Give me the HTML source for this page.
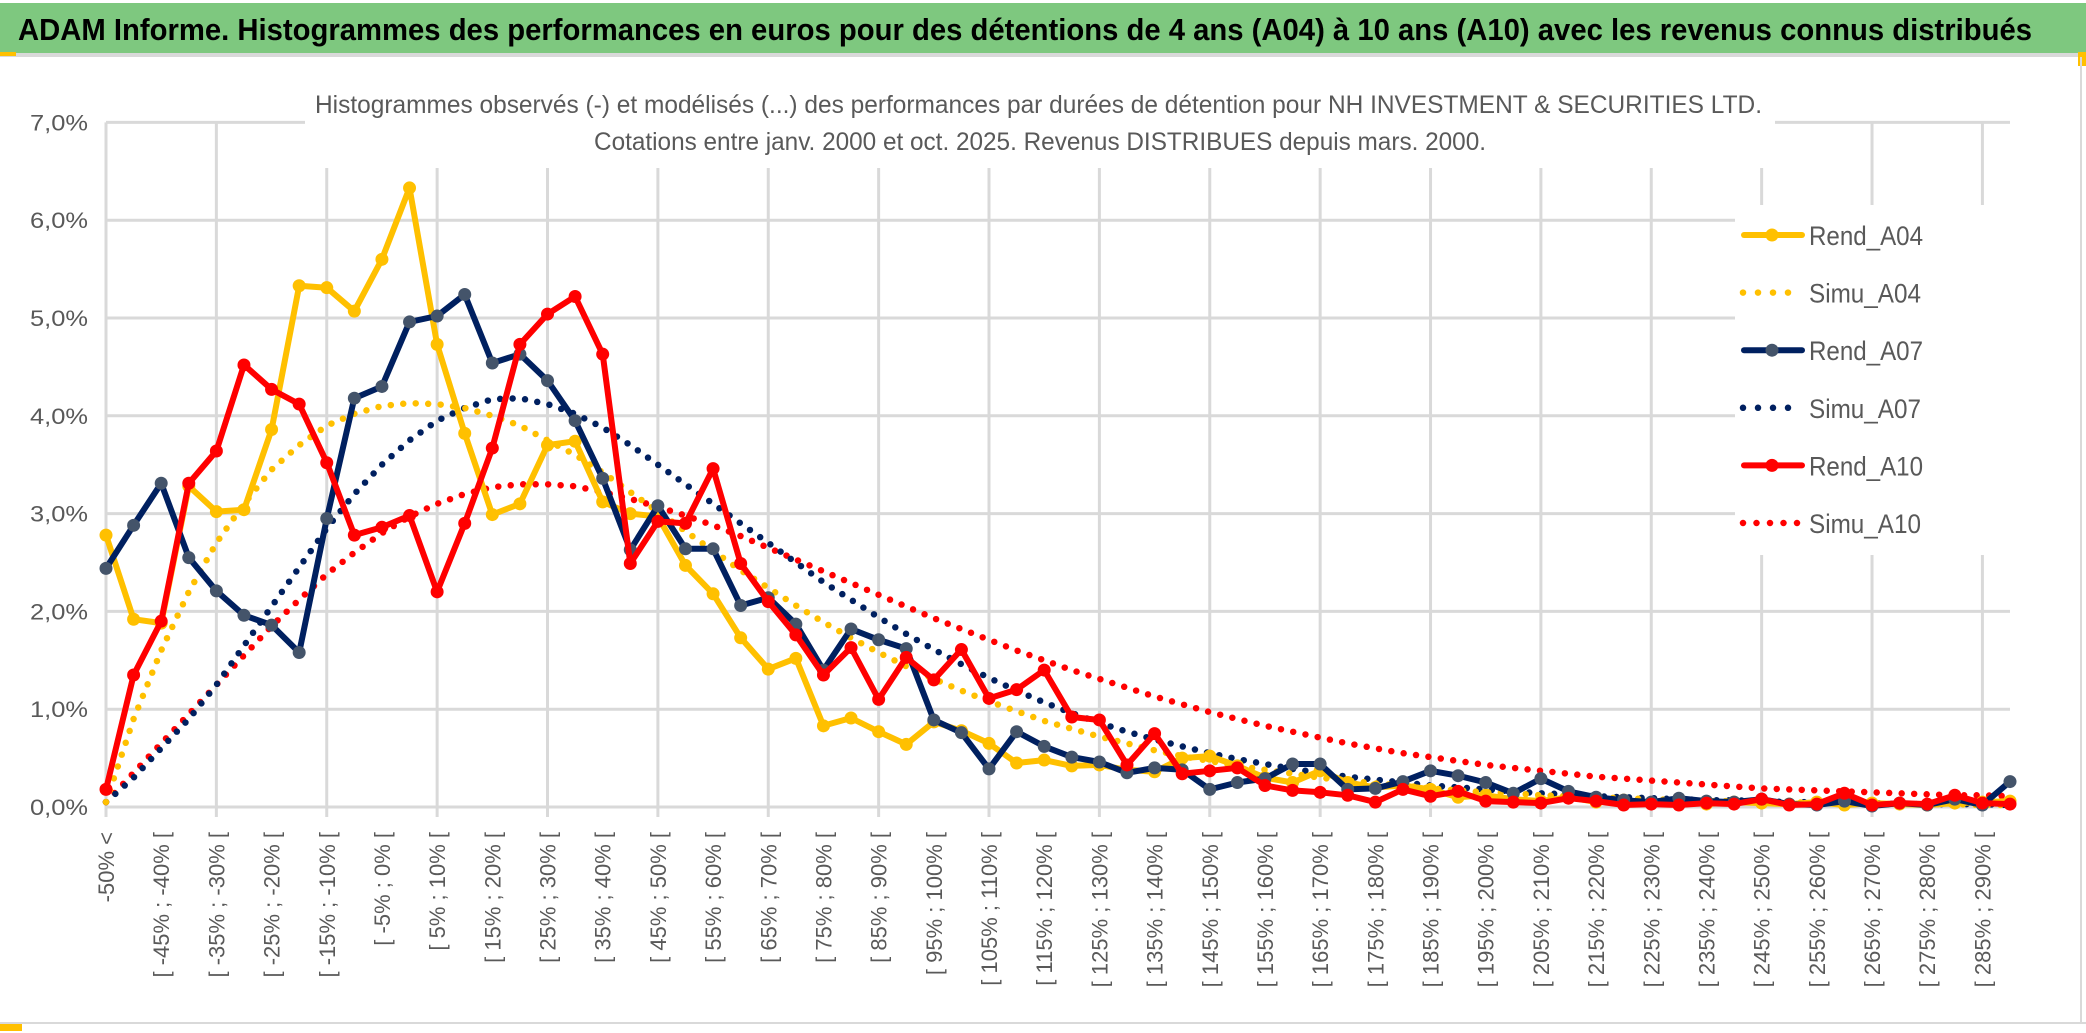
<!DOCTYPE html>
<html><head><meta charset="utf-8">
<style>
html,body{margin:0;padding:0;background:#fff;}
body{width:2086px;height:1033px;overflow:hidden;position:relative;font-family:"Liberation Sans",sans-serif;}
svg{position:absolute;left:0;top:0;}
</style></head>
<body>
<svg id="chart" width="2086" height="1033" viewBox="0 0 2086 1033">
  <rect x="0" y="0" width="2086" height="1033" fill="#fff"/>
  <rect x="0" y="3" width="2086" height="50" fill="#7ec87f"/>
  <rect x="0" y="53" width="2086" height="4" fill="#d9d9d9"/>
  <rect x="0" y="52" width="16" height="4" fill="#ffc000"/>
  <rect x="2078" y="52" width="8" height="14" fill="#ffc000"/>
  <rect x="0" y="1022" width="2086" height="2" fill="#d9d9d9"/>
  <rect x="0" y="1024" width="22" height="7" fill="#ffc000"/>
  <rect x="2080" y="57" width="2" height="965" fill="#d9d9d9"/>
  <text x="18" y="40" font-size="31" font-weight="bold" fill="#000" textLength="2014" lengthAdjust="spacingAndGlyphs">ADAM Informe. Histogrammes des performances en euros pour des détentions de 4 ans (A04) à 10 ans (A10) avec les revenus connus distribués</text>
  <g id="grid"></g>
  <rect x="305" y="80" width="1470" height="88" fill="#fff"/>
  <text x="315" y="113" font-size="25" fill="#595959" textLength="1447" lengthAdjust="spacingAndGlyphs">Histogrammes observés (-) et modélisés (...) des performances  par durées de détention pour NH INVESTMENT &amp; SECURITIES LTD.</text>
  <text x="594" y="150" font-size="25" fill="#595959" textLength="892" lengthAdjust="spacingAndGlyphs">Cotations entre janv. 2000 et oct. 2025. Revenus DISTRIBUES depuis mars. 2000.</text>
  <g id="ylabels"></g>
  <g id="xlabels"></g>
  <g id="series"></g>
  <g id="legend"></g>
</svg>
<script>
const categories = [];
(function(){ categories.push("-50% <"); for (let k=1;k<70;k++){ const a=-50+5*(k-1); categories.push("[ "+a+"% ; "+(a+5)+"% ["); } })();
const yTicks = [0,1,2,3,4,5,6,7];
const yTickLabels = ["0,0%","1,0%","2,0%","3,0%","4,0%","5,0%","6,0%","7,0%"];
const rendA04 = [2.78,1.92,1.88,3.28,3.02,3.04,3.86,5.33,5.31,5.07,5.60,6.33,4.73,3.82,2.99,3.10,3.70,3.74,3.12,3.00,2.97,2.47,2.18,1.73,1.41,1.52,0.83,0.91,0.77,0.64,0.87,0.78,0.65,0.45,0.48,0.42,0.43,0.38,0.36,0.50,0.52,0.42,0.30,0.25,0.37,0.25,0.20,0.22,0.18,0.10,0.12,0.08,0.06,0.10,0.05,0.07,0.04,0.06,0.03,0.05,0.04,0.03,0.05,0.02,0.04,0.03,0.02,0.04,0.05,0.06];
const rendA07 = [2.44,2.88,3.31,2.55,2.21,1.96,1.86,1.58,2.95,4.18,4.30,4.96,5.02,5.24,4.54,4.63,4.36,3.95,3.36,2.63,3.08,2.64,2.64,2.06,2.14,1.87,1.40,1.82,1.71,1.62,0.89,0.76,0.39,0.77,0.62,0.51,0.46,0.35,0.40,0.38,0.18,0.25,0.29,0.44,0.44,0.18,0.19,0.26,0.37,0.32,0.25,0.14,0.29,0.16,0.10,0.07,0.05,0.09,0.06,0.05,0.08,0.03,0.02,0.06,0.01,0.04,0.02,0.08,0.02,0.26];
const rendA10 = [0.18,1.35,1.90,3.31,3.64,4.52,4.27,4.12,3.52,2.78,2.86,2.98,2.20,2.90,3.67,4.73,5.04,5.22,4.63,2.49,2.92,2.90,3.46,2.49,2.10,1.76,1.35,1.63,1.10,1.53,1.30,1.61,1.11,1.20,1.40,0.92,0.89,0.43,0.75,0.34,0.37,0.40,0.22,0.17,0.15,0.12,0.05,0.18,0.11,0.16,0.06,0.05,0.04,0.09,0.06,0.02,0.03,0.02,0.04,0.03,0.08,0.02,0.03,0.14,0.02,0.04,0.03,0.12,0.04,0.03];
const simuA04 = [0.05,0.9,1.6,2.2,2.7,3.1,3.45,3.7,3.9,4.02,4.1,4.13,4.12,4.08,4.0,3.9,3.75,3.6,3.42,3.22,3.02,2.82,2.62,2.42,2.24,2.06,1.89,1.73,1.58,1.44,1.31,1.19,1.08,0.98,0.88,0.8,0.72,0.65,0.58,0.52,0.47,0.42,0.38,0.34,0.3,0.27,0.24,0.22,0.19,0.17,0.15,0.14,0.12,0.11,0.1,0.09,0.08,0.07,0.06,0.06,0.05,0.05,0.04,0.04,0.03,0.03,0.03,0.03,0.02,0.02];
const simuA07 = [0.05,0.3,0.6,0.9,1.25,1.65,2.05,2.45,2.85,3.2,3.5,3.75,3.95,4.08,4.17,4.18,4.12,4.02,3.88,3.7,3.5,3.3,3.1,2.9,2.7,2.5,2.3,2.12,1.94,1.77,1.61,1.46,1.32,1.19,1.07,0.96,0.86,0.77,0.69,0.62,0.55,0.49,0.44,0.39,0.35,0.31,0.28,0.25,0.22,0.2,0.18,0.16,0.14,0.13,0.11,0.1,0.09,0.08,0.07,0.07,0.06,0.05,0.05,0.04,0.04,0.03,0.03,0.03,0.03,0.02];
const simuA10 = [0.05,0.35,0.65,0.95,1.25,1.55,1.85,2.12,2.38,2.6,2.8,2.97,3.1,3.2,3.27,3.3,3.3,3.28,3.22,3.15,3.07,2.98,2.88,2.77,2.65,2.53,2.41,2.29,2.17,2.05,1.93,1.82,1.71,1.6,1.5,1.4,1.31,1.22,1.13,1.05,0.97,0.9,0.83,0.77,0.71,0.65,0.6,0.55,0.51,0.47,0.43,0.4,0.37,0.34,0.31,0.29,0.27,0.25,0.23,0.21,0.19,0.18,0.17,0.16,0.15,0.14,0.13,0.12,0.12,0.11];

const NS="http://www.w3.org/2000/svg";
const X0=106, X1=2010, Y0=807, YPX=97.8;
function xScale(i){ return X0 + i*(X1-X0)/(categories.length-1); }
function yScale(v){ return Y0 - v*YPX; }
function mk(tag, attrs, parent){ const e=document.createElementNS(NS,tag); for(const k in attrs) e.setAttribute(k,attrs[k]); parent.appendChild(e); return e; }

const grid=document.getElementById('grid');
yTicks.forEach(function(t){
  const l=mk('line',{x1:X0,x2:X1,y1:yScale(t),y2:yScale(t),stroke:'#d9d9d9','stroke-width':3},grid);
  
  
});
for(let i=0;i<categories.length;i+=4){
  const l=mk('line',{x1:xScale(i),x2:xScale(i),y1:yScale(7),y2:Y0+10,stroke:'#d9d9d9','stroke-width':3},grid);
  
  
}
const yl=document.getElementById('ylabels');
yTicks.forEach(function(t,i){
  const e=mk('text',{x:88,y:yScale(t)+8,'text-anchor':'end','font-size':22,fill:'#595959',textLength:58,lengthAdjust:'spacingAndGlyphs'},yl);
  e.textContent=yTickLabels[i];
  
  
});
const xl=document.getElementById('xlabels');
for(let i=0;i<categories.length;i+=2){
  const x=xScale(i)+8, y=832;
  const e=mk('text',{x:x,y:y,'text-anchor':'end','font-size':22,fill:'#595959',transform:'rotate(-90 '+x+' '+y+')'},xl);
  e.textContent=categories[i];
  
  
}
const sg=document.getElementById('series');
function pts(arr){ return arr.map(function(v,i){return xScale(i).toFixed(1)+','+yScale(v).toFixed(1);}).join(' '); }
function dotted(arr,color,name){
  const p=mk('polyline',{points:pts(arr),fill:'none',stroke:color,'stroke-width':6.5,'stroke-linecap':'round','stroke-dasharray':'0 12.5'},sg);
  
  
}
function solid(arr,color,mcolor,name){
  const p=mk('polyline',{points:pts(arr),fill:'none',stroke:color,'stroke-width':6,'stroke-linejoin':'round'},sg);
  
  
  arr.forEach(function(v,i){
    const c=mk('circle',{cx:xScale(i),cy:yScale(v),r:6.5,fill:mcolor},sg);
    
    
  });
}
dotted(simuA10,'#ff0000','simu-a10-line');
dotted(simuA07,'#002060','simu-a07-line');
dotted(simuA04,'#ffc000','simu-a04-line');
solid(rendA04,'#ffc000','#ffc000','rend-a04-line');
solid(rendA07,'#002060','#44546a','rend-a07-line');
solid(rendA10,'#ff0000','#ff0000','rend-a10-line');

const lg=document.getElementById('legend');
const lb=mk('rect',{x:1735,y:205,width:275,height:350,fill:'#fff'},lg);


const legendNames=["Rend_A04","Simu_A04","Rend_A07","Simu_A07","Rend_A10","Simu_A10"];
const legendColors=["#ffc000","#ffc000","#002060","#002060","#ff0000","#ff0000"];
const legendMarkers=["#ffc000",null,"#44546a",null,"#ff0000",null];
legendNames.forEach(function(n,i){
  const y=235+i*57.6;
  if(legendMarkers[i]){
    const l=mk('line',{x1:1744,x2:1802,y1:y,y2:y,stroke:legendColors[i],'stroke-width':6,'stroke-linecap':'round'},lg);
    
    
    const c=mk('circle',{cx:1772,cy:y,r:6.5,fill:legendMarkers[i]},lg);
    
    
  } else {
    const l=mk('line',{x1:1743,x2:(i===5?1800:1790),y1:y,y2:y,stroke:legendColors[i],'stroke-width':6.5,'stroke-linecap':'round','stroke-dasharray':(i===5?'0 13.5':'0 15')},lg);
    
    
  }
  const t=mk('text',{x:1809,y:y+10,'font-size':27,fill:'#595959',textLength:(n.charAt(0)==='R'?114:112),lengthAdjust:'spacingAndGlyphs'},lg);
  t.textContent=n;
  
  
});
</script>
</body></html>
